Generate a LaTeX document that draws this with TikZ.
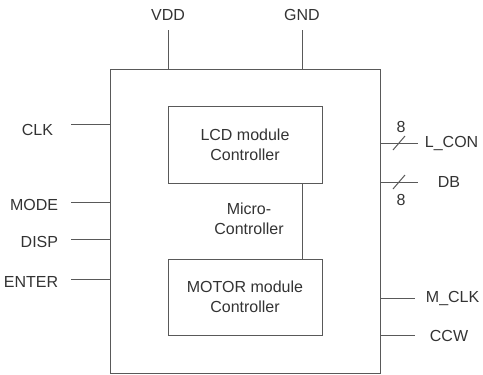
\documentclass[tikz,border=0pt]{standalone}
\usepackage{fontspec}
\setmainfont{Liberation Sans}
\usetikzlibrary{positioning}
\tikzset{every picture/.style={line width=0.75pt}}
\tikzset{
  pin/.style={draw=black!65},
  lbl/.style={text=black!80, font=\fontsize{12}{15}\selectfont},
  block/.style={draw=black!65, rectangle, align=center, text=black!80, font=\fontsize{12}{15}\selectfont},
}

\begin{document}
\begin{tikzpicture}[x=0.75pt,y=0.75pt,yscale=-1,xscale=1]
\useasboundingbox (0,0) rectangle (483,375);

%Shape: Micro-Controller box
\node [block, minimum width=202.5pt, minimum height=228pt] (mcu) at (245,221) {};
%Shape: LCD box
\node [block, minimum width=115.5pt, minimum height=57.75pt] (lcd) at (245,144.5) {LCD module\\Controller};
%Shape: MOTOR box
\node [block, minimum width=115.5pt, minimum height=57pt] (motor) at (245,297) {MOTOR module\\Controller};
%Straight Lines: LCD to MOTOR
\draw [pin] ([xshift=-15pt]lcd.south east) -- ([xshift=-15pt]motor.north east) ;

% Text Node
\node [lbl, align=center] (micro) at (249,219) {Micro-\\Controller};

% Text Node: supply
\node [lbl] (vdd) at (168,15) {VDD};
\node [lbl] (gnd) at (302,15) {GND};
\draw [pin] (mcu.north -| vdd) -- ++(0,-39) coordinate (vddend) ;
\draw [pin] (mcu.north -| gnd) -- ++(0,-39) coordinate (gndend) ;

% Text Node: inputs
\node [lbl, anchor=east] (clk) at (58,130) {CLK};
\node [lbl, anchor=east] (mode) at (63,205) {MODE};
\node [lbl, anchor=east] (disp) at (63,242) {DISP};
\node [lbl, anchor=east] (enter) at (63,282) {ENTER};
\draw [pin] (mcu.west |- 0,124) -- (71,124) coordinate (clkend) ;
\draw [pin] (mcu.west |- 0,202) -- (71,202) coordinate (modeend) ;
\draw [pin] (mcu.west |- 0,239) -- (71,239) coordinate (dispend) ;
\draw [pin] (mcu.west |- 0,279) -- (71,279) coordinate (enterend) ;

% Text Node: outputs
\node [lbl, anchor=west] (lcon) at (420,144) {L\_CON};
\node [lbl, anchor=west] (db) at (433,182) {DB};
\node [lbl, anchor=west] (mclk) at (421,299) {M\_CLK};
\node [lbl, anchor=west] (ccw) at (425,336) {CCW};
\draw [pin] (mcu.east |- 0,143) -- (418,143) coordinate (lconend) ;
\draw [pin] (mcu.east |- 0,182) -- (418,182) coordinate (dbend) ;
\draw [pin] (mcu.east |- 0,298) -- (415,298) coordinate (mclkend) ;
\draw [pin] (mcu.east |- 0,335) -- (415,335) coordinate (ccwend) ;

%Straight Lines: bus slashes
\draw [pin] (399,143) ++(-6,7) -- ++(12,-14) ;
\draw [pin] (399,182) ++(-6,7) -- ++(12,-14) ;
% Text Node
\node [lbl] (lconw) at (401,127) {8};
\node [lbl] (dbw) at (401,200) {8};

\end{tikzpicture}
\end{document}
